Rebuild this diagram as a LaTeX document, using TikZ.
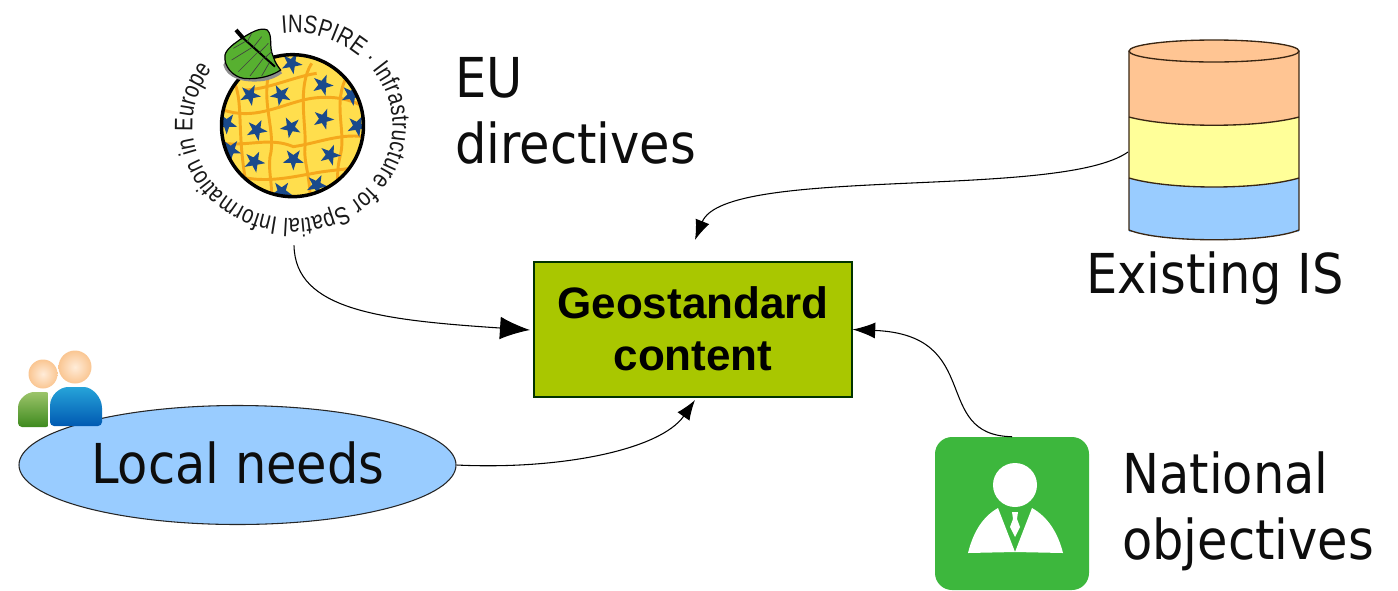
\documentclass[tikz,border=0pt]{standalone}
\usepackage{fontspec}
\usetikzlibrary{arrows.meta,decorations.text,shapes.geometric}
\setmainfont{Liberation Sans}
\newfontfamily\labfont{DejaVu Sans Condensed}
\newfontfamily\ringfont[FakeStretch=0.8]{Liberation Sans}
\definecolor{dbblue}{HTML}{99CCFF}
\definecolor{dborange}{HTML}{FFC593}
\definecolor{dbyellow}{HTML}{FFFF99}
\definecolor{boxgreen}{HTML}{A9C700}
\definecolor{icongreen}{HTML}{3DB73D}
\definecolor{navy}{HTML}{1A4A8C}
\definecolor{globeyellow}{HTML}{FFDE4D}
\definecolor{globeorange}{HTML}{F5A81C}
\definecolor{leafgreen}{HTML}{57B030}
\definecolor{persontop}{HTML}{9CC46A}
\definecolor{personbottom}{HTML}{3E8A1E}
\tikzset{
  x=0.75pt,y=-0.75pt,
  biglabel/.style={font=\labfont\fontsize{41.25}{49.5}\selectfont,inner sep=0pt,align=left,text=black!95},
  conn/.style={draw=black,line width=0.8pt},
  dbline/.style={draw=black!70!brown,line width=1pt},
  gridline/.style={draw=globeorange,line width=2.2pt},
}
\newcommand{\flag}[3][0]{%
  \fill[navy,shift={(#2,#3)},rotate=#1] (90:33)--(126:13)--(162:33)--(198:13)--(234:33)--(270:13)--(306:33)--(342:13)--(18:33)--(54:13)--cycle;}
\begin{document}
\begin{tikzpicture}
\useasboundingbox (0,0) rectangle (1398,590);
% invisible anchors of the pictures
\node[circle,minimum size=240*0.75pt,inner sep=0pt] (logo) at (294,125) {};
\node[minimum width=171*0.75pt,minimum height=198*0.75pt,inner sep=0pt] (db) at (1214,139) {};
\coordinate (dbport) at (1128,152);
% cylinder
\fill[dbblue] (1129,178) rectangle (1299,232);
\fill[dbblue] (1129,230) .. controls (1160,243) and (1268,243) .. (1299,230) -- cycle;
\fill[dbyellow] (1129,117) rectangle (1299,178);
\fill[dbyellow] (1129,178) .. controls (1170,190) and (1258,190) .. (1299,178) -- cycle;
\fill[dborange] (1129,50) rectangle (1299,117);
\fill[dborange] (1129,117) .. controls (1170,128) and (1258,128) .. (1299,117) -- cycle;
\draw[dbline,fill=dborange] (1214,51) ellipse[x radius=85,y radius=11];
\draw[dbline] (1129,117) .. controls (1170,128) and (1258,128) .. (1299,117);
\draw[dbline] (1129,178) .. controls (1170,190) and (1258,190) .. (1299,178);
\draw[dbline] (1129,51) -- (1129,230) .. controls (1160,243) and (1268,243) .. (1299,230) -- (1299,51);
% main box
\node[draw=black!80!green,line width=0.8pt,fill=boxgreen,minimum width=318*0.75pt,minimum height=135*0.75pt,inner sep=0pt,
  font=\bfseries\fontsize{33}{39}\selectfont,align=center] (box) at (693,329.5) {\raisebox{1.5pt}{Geostandard}\\\raisebox{1.5pt}{content}};
% ellipse and people
\node[draw=black!85,line width=0.8pt,fill=dbblue,ellipse,minimum width=437*0.75pt,minimum height=119*0.75pt,inner sep=0pt] (local) at (237.5,465) {};
\node[biglabel,anchor=base] (localtext) at (238,483) {Local needs};
\shade[top color=persontop,bottom color=personbottom,rounded corners=3pt] (18,427) -- (18,412) .. controls (18,398) and (28,392) .. (38,392) -- (50,392) -- (50,427) -- cycle;
\shade[inner color=orange!15!white,outer color=orange!40!white!92!brown] (43,374) circle[radius=14.5];
\shade[inner color=orange!15!white,outer color=orange!40!white!92!brown] (75,367) circle[radius=16.5];
\fill[white] (48,392) rectangle (50,427);
\shade[top color=blue!30!cyan!70!gray,bottom color=blue!50!cyan!70!black,rounded corners=3pt] (50,426) -- (50,410) .. controls (50,395) and (60,387) .. (72,387) -- (80,387) .. controls (92,387) and (102,397) .. (102,412) -- (102,426) -- cycle;
% national icon
\node[fill=icongreen,rounded corners=17*0.75pt,minimum width=154*0.75pt,minimum height=153*0.75pt,inner sep=0pt] (icon) at (1012,513.5) {};
\fill[white] (1015,485) circle[radius=22];
\fill[white] (968,553) .. controls (973,533) and (982,517) .. (998,508) -- (1015,552) -- cycle;
\fill[white] (1063,553) .. controls (1058,533) and (1048,517) .. (1032,508) -- (1015,552) -- cycle;
\fill[white] (1012,512) -- (1018,512) -- (1017,519) -- (1020,527) -- (1015,537) -- (1010,527) -- (1013,519) -- cycle;
% logo
\begin{scope}[shift={(160,0)},scale=1/3]
  \begin{scope}
    \clip (397.5,377) circle[radius=213];
    \fill[globeyellow] (397.5,377) circle[radius=213];
    \draw[gridline] (190,330) .. controls (280,360) and (350,320) .. (430,300) .. controls (490,285) and (560,290) .. (610,320);
    \draw[gridline] (190,430) .. controls (260,440) and (330,410) .. (400,440) .. controls (470,430) and (540,400) .. (610,410);
    \draw[gridline] (240,530) .. controls (320,550) and (400,530) .. (460,520) .. controls (510,510) and (550,510) .. (600,500);
    \draw[gridline] (250,270) .. controls (320,270) and (400,230) .. (470,220);
    \draw[gridline] (225,250) .. controls (250,320) and (230,400) .. (260,560);
    \draw[gridline] (330,210) .. controls (300,300) and (350,400) .. (330,470) .. controls (325,510) and (335,540) .. (335,590);
    \draw[gridline] (455,190) .. controls (410,260) and (440,380) .. (435,440) .. controls (430,480) and (450,530) .. (450,590);
    \draw[gridline] (555,240) .. controls (520,320) and (560,400) .. (540,470) .. controls (530,510) and (535,530) .. (530,560);
    \flag[10]{270}{285}\flag[-10]{362}{285}\flag[15]{488}{255}\flag[10]{575}{285}
    \flag[0]{200}{370}\flag[10]{290}{390}\flag[-10]{392}{382}\flag[15]{490}{357}\flag[10]{592}{378}
    \flag[0]{212}{450}\flag[10]{283}{485}\flag[0]{400}{478}\flag[15]{510}{465}
    \flag[0]{365}{575}\flag[10]{470}{555}\flag[10]{395}{190}
  \end{scope}
  \draw[black,line width=2.6pt] (397.5,377) circle[radius=213];
  % leaf
  \fill[black!45] (190,195) .. controls (200,235) and (250,250) .. (310,243) .. controls (330,240) and (350,232) .. (366,220) -- (340,170) -- (220,130) -- cycle;
  \draw[black,line width=0.9pt,fill=leafgreen] (245,115) .. controls (270,100) and (300,80) .. (322,90) .. controls (340,110) and (325,140) .. (340,170) .. controls (345,190) and (355,200) .. (362,210) .. controls (340,225) and (300,240) .. (250,235) .. controls (220,230) and (190,200) .. (195,165) .. controls (200,145) and (225,130) .. (245,115) -- cycle;
  \draw[black,line width=3pt] (228,90) -- (250,115);
  \draw[black,line width=1.5pt] (250,115) -- (345,200);
  \foreach \a/\b/\c/\d in {262/125/275/100, 280/142/305/110, 298/158/325/130, 315/173/335/155, 255/125/220/145, 275/143/215/180, 292/158/235/215, 310/175/270/228, 328/188/305/228}
    \draw[black!75,line width=0.5pt] (\a,\b) -- (\c,\d);
\end{scope}
\begin{scope}[shift={(292.5,125.7)},y=0.75pt]
  \path[decorate,decoration={text along path,text align={fit to path},
    text={|\ringfont\fontsize{19}{22}\selectfont\color{black!90}|INSPIRE · Infrastructure for Spatial Information in Europe}}]
    (96:100 and 93) arc[start angle=96,end angle=-217,x radius=100,y radius=93];
\end{scope}
% labels
\node[biglabel,anchor=base west] (eu) at (455,163) {EU\\directives};
\node[biglabel,anchor=base] (existing) at (1215,293) {Existing IS};
\node[biglabel,anchor=base west] (national) at (1122,559) {National\\objectives};
% connectors
\draw[conn,-{Latex[length=22.5pt,width=17pt]}] (logo.south) .. controls (295,310) and (380,320) .. (530,330);
\draw[conn,-{Latex[length=15pt,width=11pt]}] (dbport) .. controls (1060,200) and (725,165) .. (695,240);
\draw[conn,-{Latex[length=15pt,width=11pt]}] (local.east) .. controls (560,470) and (660,450) .. (695,400);
\draw[conn,-{Latex[length=17pt,width=12pt]}] (icon.north) .. controls (930,435) and (985,335) .. (box.east);
\end{tikzpicture}
\end{document}
